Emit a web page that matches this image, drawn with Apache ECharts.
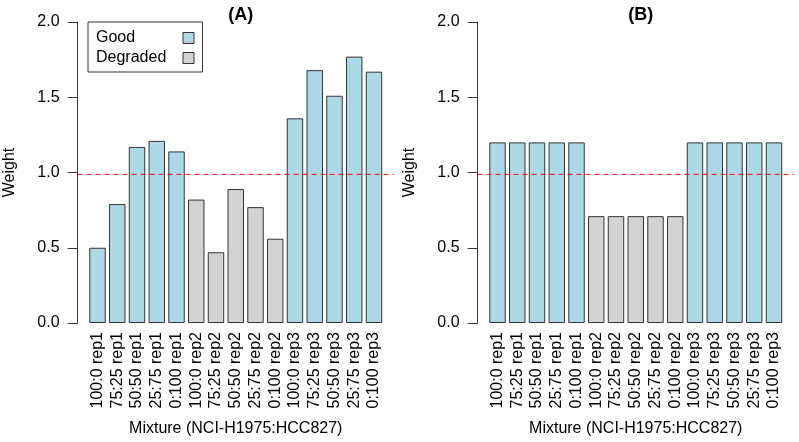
<!DOCTYPE html>
<html>
<head>
<meta charset="utf-8">
<script src="https://cdn.jsdelivr.net/npm/echarts@6/dist/echarts.min.js"></script>
<style>
  html, body { margin: 0; padding: 0; background: #fff; }
  #chart { width: 799px; height: 442px; }
</style>
</head>
<body>
<div id="chart"></div>
<script>
// sample labels (NCI-H1975:HCC827 mixture, replicate)
var categories = [
  '100:0 rep1', '75:25 rep1', '50:50 rep1', '25:75 rep1', '0:100 rep1',
  '100:0 rep2', '75:25 rep2', '50:50 rep2', '25:75 rep2', '0:100 rep2',
  '100:0 rep3', '75:25 rep3', '50:50 rep3', '25:75 rep3', '0:100 rep3'
];
var quality = [
  'Good', 'Good', 'Good', 'Good', 'Good',
  'Degraded', 'Degraded', 'Degraded', 'Degraded', 'Degraded',
  'Good', 'Good', 'Good', 'Good', 'Good'
];
// panel (A) weights
var weightsA = [0.50, 0.79, 1.17, 1.21, 1.14, 0.82, 0.47, 0.89, 0.77, 0.56, 1.36, 1.68, 1.51, 1.77, 1.67];
// panel (B) weights
var weightsB = [1.20, 1.20, 1.20, 1.20, 1.20, 0.71, 0.71, 0.71, 0.71, 0.71, 1.20, 1.20, 1.20, 1.20, 1.20];
var panelTitles = ['(A)', '(B)'];
var refWeight = 1;

var colors = { Good: '#add8e6', Degraded: '#d3d3d3' };
var font = 'Liberation Sans, Arial, Helvetica, sans-serif';

var chart = echarts.init(document.getElementById('chart'));

var grids = [], xAxes = [], yAxes = [], series = [], titles = [];
[weightsA, weightsB].forEach(function (w, p) {
  var dx = p * 400;
  var gA = grids.length;
  // full plot region (for the reference line)
  grids.push({ left: 77.6 + dx, width: 316.4, top: 22, bottom: 115.3 });
  // bar region
  grids.push({ left: 87.65 + dx, width: 296.2, top: 22, bottom: 115.3 });
  var gB = gA + 1;

  xAxes.push({ type: 'value', gridIndex: gA, min: 0, max: 1, show: false });
  yAxes.push({ type: 'value', gridIndex: gA, min: 0, max: 2, show: false });

  xAxes.push({
    type: 'category', gridIndex: gB, data: categories,
    axisLine: { show: false }, axisTick: { show: false },
    axisLabel: { rotate: 90, interval: 0, margin: 9, fontSize: 16, color: '#000', fontFamily: font },
    name: 'Mixture (NCI-H1975:HCC827)', nameLocation: 'middle', nameGap: 98,
    nameTextStyle: { fontSize: 16, color: '#000', fontFamily: font }
  });
  yAxes.push({
    type: 'value', gridIndex: gB, min: 0, max: 2, interval: 0.5, offset: 10.05,
    splitLine: { show: false },
    axisLine: { show: true, lineStyle: { color: '#333', width: 1 } },
    axisTick: { show: true, length: 10, lineStyle: { color: '#333', width: 1 } },
    axisLabel: { margin: 18, fontSize: 16, color: '#000', fontFamily: font,
      formatter: function (v) { return v.toFixed(1); } },
    name: 'Weight', nameLocation: 'middle', nameGap: 60,
    nameTextStyle: { fontSize: 16, color: '#000', fontFamily: font }
  });

  var xi = xAxes.length - 1, yi = yAxes.length - 1;
  ['Good', 'Degraded'].forEach(function (q) {
    series.push({
      type: 'bar', name: q, xAxisIndex: xi, yAxisIndex: yi,
      barCategoryGap: '16.67%', barGap: '-100%',
      itemStyle: { color: colors[q], borderColor: '#333', borderWidth: 1 },
      data: w.map(function (v, i) { return quality[i] === q ? v : '-'; })
    });
  });
  series.push({
    type: 'line', xAxisIndex: xi - 1, yAxisIndex: yi - 1, z: 5, silent: true,
    symbol: 'none',
    lineStyle: { color: '#f00', width: 1, type: [5, 4] },
    data: [[0, refWeight], [1, refWeight]]
  });

  titles.push({
    text: panelTitles[p], left: 235.8 + dx, top: 1, textAlign: 'center',
    textStyle: { fontSize: 18, fontWeight: 'bold', color: '#000', fontFamily: font }
  });
});

chart.setOption({
  animation: false,
  backgroundColor: '#fff',
  title: titles,
  legend: {
    data: ['Good', 'Degraded'],
    orient: 'vertical', left: 88, top: 22,
    align: 'right',
    padding: [8, 8, 6, 8], itemGap: 4,
    itemWidth: 11, itemHeight: 11,
    borderColor: '#333', borderWidth: 1,
    icon: 'rect',
    itemStyle: { borderColor: '#333', borderWidth: 1 },
    formatter: '{a|{name}}',
    textStyle: {
      fontSize: 16, color: '#000', fontFamily: font,
      rich: { a: { width: 82, align: 'left', fontSize: 16, fontFamily: font, color: '#000' } }
    }
  },
  grid: grids,
  xAxis: xAxes,
  yAxis: yAxes,
  series: series
});
</script>
</body>
</html>
